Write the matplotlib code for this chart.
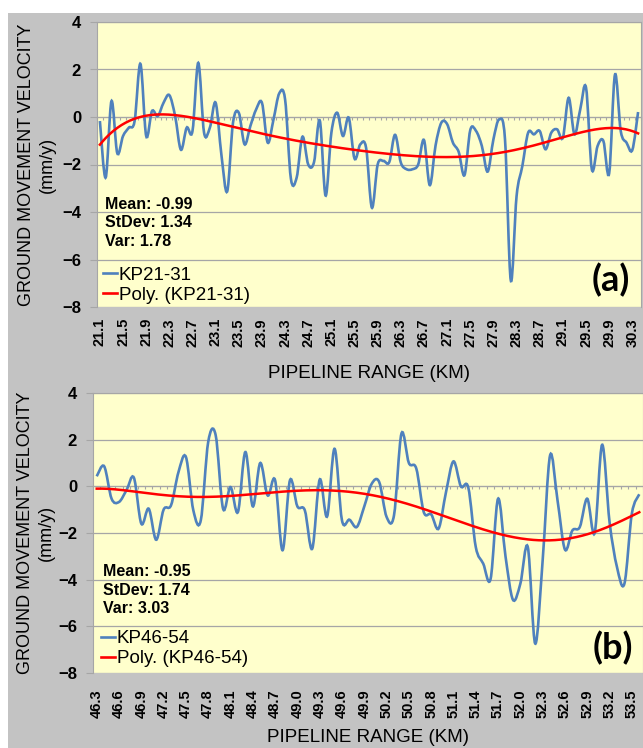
import numpy as np
import matplotlib
matplotlib.use("Agg")
import matplotlib.pyplot as plt
from matplotlib.path import Path
from matplotlib.patches import PathPatch, Rectangle
from matplotlib.lines import Line2D

plt.rcParams['font.family'] = ['Liberation Sans', 'DejaVu Sans']

# pipeline chainage (km), one category every 0.1 km
km_a = np.arange(211, 305) / 10
km_b = np.arange(463, 537) / 10

# ground movement velocity (mm/y)
vel_a = [-0.17, -2.55, 0.67, -1.52, -0.8, -0.45, -0.17, 2.24, -0.8, 0.25,
         0.04, 0.6, 0.92, 0.04, -1.38, -0.45, -0.59, 2.28, -0.66, -0.45,
         0.6, -1.6, -3.13, -0.24, 0.18, -1.15, -0.38, 0.32, 0.6, -1.08,
         -0.1, 1.0, 0.74, -2.59, -2.55, -0.83, -2.0, -1.9, -0.15, -3.31,
         -0.66, 0.18, -0.8, -0.03, -1.75, -1.15, -1.3, -3.82, -2.0, -1.85,
         -1.9, -0.75, -1.92, -2.2, -2.2, -2.0, -0.97, -2.87, -1.2, -0.24,
         -0.3, -1.08, -1.47, -2.45, -0.55, -0.59, -1.22, -2.3, -0.94, -0.1,
         -0.94, -6.88, -3.33, -2.06, -0.66, -0.73, -0.59, -1.36, -0.66, -0.52,
         -0.87, 0.81, -0.73, 0.32, 1.24, -2.2, -1.22, -1.01, -2.37, 1.78,
         -0.59, -1.08, -1.39, 0.21]
vel_b = [0.43, 0.86, -0.53, -0.67, -0.17, 0.37, -1.6, -0.96, -2.29, -1.0,
         -0.81, 0.61, 1.26, -1.03, -1.46, 1.9, 2.2, -0.96, -0.03, -1.1,
         1.47, -0.86, 1.0, -0.39, 0.26, -2.74, 0.26, -0.86, -1.03, -2.67,
         0.29, -1.29, 1.61, -1.46, -1.43, -1.74, -0.86, 0.11, 0.19, -1.31,
         -1.24, 2.26, 1.0, 0.76, -1.1, -1.2, -1.81, -0.24, 1.07, 0.0,
         -0.06, -2.6, -3.31, -3.96, -0.53, -3.0, -4.86, -4.17, -2.6, -6.74,
         -3.17, 1.33, -0.6, -2.71, -1.89, -1.74, -0.53, -2.0, 1.78, -1.53,
         -3.46, -4.17, -1.17, -0.34]

stats_a = "Mean: -0.99\nStDev: 1.34\nVar: 1.78"
stats_b = "Mean: -0.95\nStDev: 1.74\nVar: 3.03"

BLUE = '#4f81bd'
RED = '#ff0000'
GRID = '#a6a6a6'


def smooth_path(y):
    # Excel-style smoothed line: cubic bezier through every point
    pts = np.column_stack([np.arange(len(y)), y]).astype(float)
    n = len(pts)
    verts = [pts[0]]
    codes = [Path.MOVETO]
    for k in range(n - 1):
        p0 = pts[max(k - 1, 0)]
        p1 = pts[k]
        p2 = pts[k + 1]
        p3 = pts[min(k + 2, n - 1)]
        verts += [p1 + (p2 - p0) / 6, p2 - (p3 - p1) / 6, p2]
        codes += [Path.CURVE4] * 3
    return Path(verts, codes)


def panel(ax, km, vel, step, name, stats, tag, lab_pad, ylab_x, txt_x, stats_y, leg_y, tag_y):
    n = len(vel)
    idx = np.arange(n)
    ax.set_facecolor('#ffffcc')
    ax.set_xlim(-0.5, n - 0.5)
    ax.set_ylim(-8, 4)

    ax.add_patch(PathPatch(smooth_path(vel), fill=False, edgecolor=BLUE, lw=1.9, zorder=3))
    coef = np.polyfit(idx + 1, vel, 6)
    xf = np.linspace(0, n - 1, 400)
    ax.plot(xf, np.polyval(coef, xf + 1), color=RED, lw=1.8, zorder=4)

    ax.set_yticks(range(-8, 5, 2))
    ax.grid(axis='y', color=GRID, lw=0.9)
    ax.tick_params(axis='y', direction='out', length=5, color=GRID, pad=6.5,
                   labelsize=12)
    for t in ax.get_yticklabels():
        t.set_fontweight('bold')

    # horizontal axis crossing at zero, labels sit below the plot
    ax.spines['bottom'].set_position(('data', 0))
    ax.spines['bottom'].set_color(GRID)
    ax.set_xticks(np.arange(n + 1) - 0.5)
    ax.tick_params(axis='x', direction='out', length=2.5, color=GRID, labelbottom=False)
    for s in ['left', 'right', 'top']:
        ax.spines[s].set_color(GRID)
        ax.spines[s].set_linewidth(0.8)

    sec = ax.secondary_xaxis(0.0)
    sec.set_xticks(idx[::step])
    sec.set_xticklabels([f"{v:.1f}" for v in km[::step]], rotation=90,
                        fontsize=10.5, fontweight='bold')
    sec.tick_params(length=0, pad=lab_pad)
    sec.spines['bottom'].set_visible(False)
    ax.text(0.5, -0.232, "PIPELINE RANGE (KM)", transform=ax.transAxes,
            fontsize=13.5, ha='center', va='center')

    ax.set_ylabel("GROUND MOVEMENT VELOCITY\n(mm/y)", fontsize=13, linespacing=1.3)
    ax.yaxis.label.set_va('center')
    ax.yaxis.set_label_coords(ylab_x, 0.5)

    ax.text(txt_x, stats_y, stats, transform=ax.transAxes, fontsize=11.5,
            fontweight='bold', va='center', ha='left', linespacing=1.3, zorder=5)
    handles = [Line2D([], [], color=BLUE, lw=1.9), Line2D([], [], color=RED, lw=1.9)]
    ax.legend(handles, [name, f"Poly. ({name})"], loc='lower left',
              bbox_to_anchor=(txt_x - 0.004, leg_y), frameon=False, fontsize=13.5,
              handlelength=0.75, handletextpad=0.1, labelspacing=0.15,
              borderpad=0, borderaxespad=0)
    ax.text(0.945, tag_y, tag, transform=ax.transAxes, fontsize=26,
            fontweight='bold', family=['Lato', 'DejaVu Sans'],
            ha='center', va='center', zorder=5)


fig = plt.figure(figsize=(6.43, 7.48), dpi=100)
fig.patch.set_facecolor('white')
fig.add_artist(Rectangle((8 / 643, 0), 1, 1 - 13 / 748, transform=fig.transFigure,
                         facecolor='#c3c3c3', edgecolor='none', zorder=0))

ax1 = fig.add_axes([97 / 643, 1 - 307 / 748, 544 / 643, 285 / 748])
ax2 = fig.add_axes([93 / 643, 1 - 673 / 748, 550 / 643, 280 / 748])

panel(ax1, km_a, vel_a, 4, "KP21-31", stats_a, "(a)", 8, -0.111, 0.015, 0.295, 0.012, 0.095)
panel(ax2, km_b, vel_b, 3, "KP46-54", stats_b, "(b)", 12, -0.103, 0.018, 0.296, 0.02, 0.09)

fig.savefig("out.png", dpi=100)
